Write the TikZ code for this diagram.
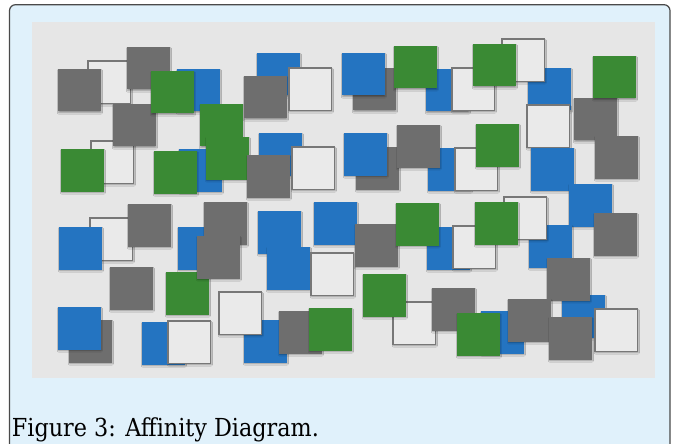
\documentclass[tikz,border=0pt]{standalone}
\usepackage{fontspec}
\setmainfont{DejaVu Serif Condensed}
\usetikzlibrary{shadows.blur}
\definecolor{sqblue}{HTML}{2474C1}
\definecolor{sqgreen}{HTML}{3A8A34}
\definecolor{sqgrey}{HTML}{6E6E6E}
\definecolor{sqwhite}{HTML}{EAEAEA}
\definecolor{sqedge}{HTML}{777777}
\definecolor{panelgrey}{HTML}{E6E6E6}
\definecolor{outerbg}{HTML}{E0F1FB}
\definecolor{framec}{HTML}{4A4A4A}
\tikzset{
  sqbox/.style={minimum size=42.5pt, inner sep=0pt, outer sep=0pt, anchor=north west,
    blur shadow={shadow xshift=0.6pt, shadow yshift=-1.4pt, shadow blur radius=1.3pt, shadow blur steps=4, shadow opacity=35}},
  bl/.style={sqbox, fill=sqblue},
  gn/.style={sqbox, fill=sqgreen},
  gy/.style={sqbox, fill=sqgrey},
  wh/.style={sqbox, fill=sqwhite, draw=sqedge, line width=1.3pt},
}
\newcommand\sqput[4]{\node[#1] (#2) at (#3,#4) {};}
\begin{document}
\begin{tikzpicture}[x=1pt,y=-1pt]
\useasboundingbox (0,0) rectangle (673,444);
\clip (0,0) rectangle (673,444);
\fill[white] (0,0) rectangle (673,444);
\draw[framec, line width=1.2pt, fill=outerbg, rounded corners=6pt] (9.5,4.7) rectangle (670,490);
\fill[panelgrey] (32,22) rectangle (655,378);
% group 1
\sqput{wh}{w1}{88}{61}
\sqput{wh}{w2}{91}{141}
\sqput{gy}{a}{58}{69}
\sqput{gy}{b}{127}{47}
\sqput{gy}{c}{113}{104}
\sqput{gn}{h}{61}{149}
\sqput{bl}{d}{177}{69}
\sqput{gn}{e}{151}{71}
\sqput{gn}{f}{200}{104}
\sqput{bl}{i}{179}{149}
\sqput{gn}{j}{154}{151}
\sqput{gn}{g}{206}{137}
% group 2
\sqput{bl}{k}{257}{53}
\sqput{gy}{l}{244}{76}
\sqput{wh}{w3}{289}{68}
\sqput{bl}{z}{259}{133}
\sqput{gy}{aa}{247}{155}
\sqput{wh}{w7}{292}{147}
% group 3
\sqput{gy}{n}{353}{68}
\sqput{bl}{m}{342}{53}
\sqput{bl}{p}{426}{69}
\sqput{gn}{o}{394}{46}
\sqput{wh}{w4}{452}{68}
\sqput{bl}{r}{528}{68}
\sqput{wh}{w5}{502}{39}
\sqput{gn}{q}{473}{44}
\sqput{wh}{w6}{527}{105}
\sqput{gy}{t}{574}{98}
\sqput{gn}{s}{593}{56}
\sqput{gy}{u}{595}{136}
\sqput{bl}{v}{531}{148}
\sqput{bl}{x}{569}{184}
\sqput{gy}{y}{594}{213}
% group 4
\sqput{gy}{ac}{356}{147}
\sqput{bl}{ab}{344}{133}
\sqput{bl}{ae}{428}{148}
\sqput{gy}{ad}{397}{125}
\sqput{wh}{w8}{455}{148}
\sqput{gn}{af}{476}{124}
% group 5
\sqput{wh}{w9}{90}{218}
\sqput{bl}{ba}{59}{227}
\sqput{gy}{bb}{128}{204}
\sqput{gy}{bc}{110}{267}
\sqput{bl}{bd}{178}{227}
\sqput{gy}{be}{204}{202}
\sqput{gn}{bg}{166}{272}
\sqput{gy}{bf}{197}{236}
\sqput{gy}{bi}{69}{320}
\sqput{bl}{bh}{58}{307}
\sqput{bl}{bj}{142}{322}
\sqput{wh}{w10}{168}{321}
% group 6
\sqput{bl}{cl}{244}{320}
\sqput{wh}{w11}{219}{292}
\sqput{bl}{ca}{258}{211}
\sqput{bl}{cb}{267}{247}
\sqput{bl}{cc}{314}{202}
\sqput{wh}{w12}{311}{253}
\sqput{gy}{cd}{355}{224}
\sqput{bl}{cf}{427}{227}
\sqput{gn}{ce}{396}{203}
\sqput{wh}{w13}{453}{226}
\sqput{bl}{ch}{529}{225}
\sqput{wh}{w14}{504}{197}
\sqput{gn}{cg}{475}{202}
\sqput{bl}{cr}{562}{295}
\sqput{gy}{ci}{547}{258}
\sqput{wh}{w15}{393}{302}
\sqput{gn}{cj}{363}{274}
\sqput{gy}{ck}{432}{288}
\sqput{gy}{cm}{279}{311}
\sqput{gn}{cn}{309}{308}
\sqput{bl}{cp}{481}{311}
\sqput{gn}{co}{457}{313}
\sqput{gy}{cq}{508}{299}
\sqput{gy}{cs}{549}{317}
\sqput{wh}{w16}{595}{309}
% caption
\node[anchor=base west, inner sep=0pt, font=\fontsize{24.8}{28}\selectfont] (cap) at (11.7,436.7) {Figure 3: Affinity Diagram.};
\end{tikzpicture}
\end{document}
